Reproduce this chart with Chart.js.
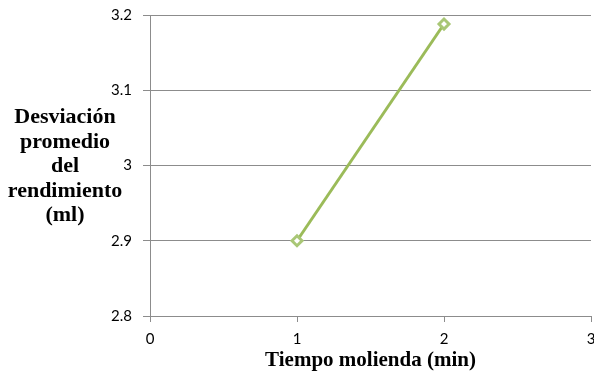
<!DOCTYPE html>
<html>
<head>
<meta charset="utf-8">
<script src="https://cdn.jsdelivr.net/npm/chart.js@4"></script>
<style>
  html, body { margin: 0; padding: 0; background: #ffffff; }
  #wrap { width: 594px; height: 378px; position: relative; }
</style>
</head>
<body>
<div id="wrap"><canvas id="c" width="594" height="378"></canvas></div>
<script>
// Grinding time (min) vs. mean deviation of the yield (ml)
const tiempoMin = [1, 2];
const desviacion = [2.9, 3.188];
const yTicks = [2.8, 2.9, 3, 3.1, 3.2];
const xTicks = [0, 1, 2, 3];
const yTitleLines = ['Desviación', 'promedio', 'del', 'rendimiento', '(ml)'];
const xTitle = 'Tiempo molienda (min)';

const points = tiempoMin.map((t, i) => ({ x: t, y: desviacion[i] }));

// Horizontal, multi-line y-axis title drawn to the left of the axis
const yTitlePlugin = {
  id: 'yTitleHorizontal',
  afterDraw(chart) {
    const ctx = chart.ctx;
    ctx.save();
    ctx.font = 'bold 22px "Liberation Serif", "Times New Roman", serif';
    ctx.fillStyle = '#000000';
    ctx.textAlign = 'center';
    ctx.textBaseline = 'alphabetic';
    yTitleLines.forEach((line, i) => {
      ctx.fillText(line, 65, 123 + i * 24.6);
    });
    ctx.restore();
  }
};

new Chart(document.getElementById('c'), {
  type: 'line',
  data: {
    datasets: [{
      data: points,
      borderColor: '#9bbb59',
      borderWidth: 3,
      pointStyle: 'rectRot',
      pointRadius: 5,
      pointBorderWidth: 3,
      pointBackgroundColor: '#ffffff',
      pointBorderColor: '#a9c776',
      tension: 0,
      clip: false
    }]
  },
  options: {
    responsive: false,
    animation: false,
    layout: { autoPadding: false, padding: { left: 0, right: 3, top: 15, bottom: 0 } },
    plugins: {
      legend: { display: false },
      tooltip: { enabled: false }
    },
    scales: {
      x: {
        type: 'linear',
        min: 0,
        max: 3,
        afterBuildTicks(scale) { scale.ticks = xTicks.map(v => ({ value: v })); },
        afterFit(scale) { scale.height = 62; scale.paddingLeft = 0; scale.paddingRight = 0; },
        grid: {
          drawOnChartArea: false,
          drawTicks: true,
          tickLength: 6,
          color: '#8c8c8c',
          lineWidth: 1
        },
        border: { color: '#8c8c8c', width: 1 },
        ticks: {
          color: '#000000',
          padding: 8,
          maxRotation: 0,
          font: { family: 'Lato, "Open Sans", sans-serif', size: 15 }
        },
        title: {
          display: true,
          text: xTitle,
          color: '#000000',
          padding: { top: 0, bottom: 5 },
          font: { family: '"Liberation Serif", "Times New Roman", serif', size: 21, weight: 'bold' }
        }
      },
      y: {
        type: 'linear',
        min: 2.8,
        max: 3.2,
        afterBuildTicks(scale) { scale.ticks = yTicks.map(v => ({ value: v })); },
        afterFit(scale) { scale.width = 150; scale.paddingTop = 0; scale.paddingBottom = 0; },
        grid: {
          drawOnChartArea: true,
          drawTicks: true,
          tickLength: 7,
          color: '#8c8c8c',
          lineWidth: 1
        },
        border: { color: '#8c8c8c', width: 1 },
        ticks: {
          color: '#000000',
          padding: 11,
          font: { family: 'Lato, "Open Sans", sans-serif', size: 15 },
          callback: (v) => String(v)
        }
      }
    }
  },
  plugins: [yTitlePlugin]
});
</script>
</body>
</html>
